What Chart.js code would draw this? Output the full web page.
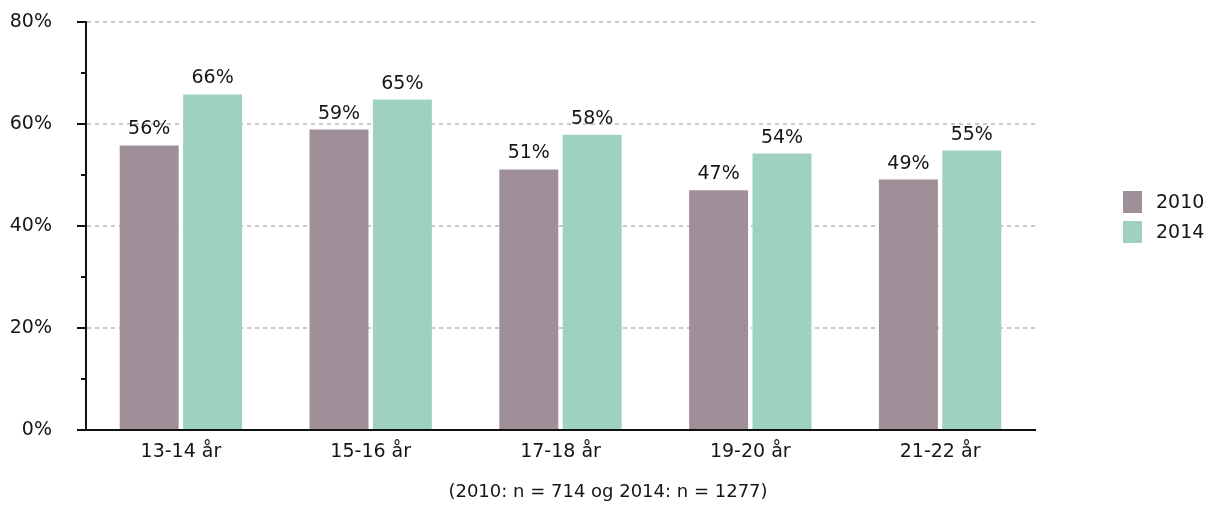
<!DOCTYPE html>
<html>
<head>
<meta charset="utf-8">
<script src="https://cdn.jsdelivr.net/npm/chart.js@4/dist/chart.umd.min.js"></script>
<style>
  html, body { margin: 0; padding: 0; background: #fff; }
  #wrap { width: 1206px; height: 505px; position: relative; }
</style>
</head>
<body>
<div id="wrap"><canvas id="c"></canvas></div>
<script>
const categories = ['13-14 år', '15-16 år', '17-18 år', '19-20 år', '21-22 år'];
const seriesNames = ['2010', '2014'];
const values2010 = [55.8, 58.9, 51.1, 47.0, 49.1];
const values2014 = [65.8, 64.8, 57.9, 54.2, 54.8];
const yTicks = [0, 20, 40, 60, 80];
const footnote = '(2010: n = 714 og 2014: n = 1277)';

const FONT = 'DejaVu Sans';
const TEXT = '#161616';
const colors = ['#a08e98', '#9fd1c0'];

const extras = {
  id: 'extras',
  afterDraw(chart) {
    const ctx = chart.ctx;
    const y = chart.scales.y;
    const area = chart.chartArea;
    ctx.save();
    // axis tick marks (major every 20, minor every 10)
    ctx.strokeStyle = '#111';
    ctx.lineWidth = 2;
    for (let v = 0; v <= 80; v += 10) {
      const py = Math.round(y.getPixelForValue(v));
      const len = (v % 20 === 0) ? 9 : 5;
      ctx.beginPath();
      ctx.moveTo(area.left - len, py);
      ctx.lineTo(area.left, py);
      ctx.stroke();
    }
    // data labels
    ctx.fillStyle = TEXT;
    ctx.font = '19px "' + FONT + '"';
    ctx.textAlign = 'center';
    ctx.textBaseline = 'alphabetic';
    chart.data.datasets.forEach((ds, di) => {
      const meta = chart.getDatasetMeta(di);
      meta.data.forEach((bar, i) => {
        ctx.fillText(Math.round(ds.data[i]) + '%', bar.x, bar.y - 11);
      });
    });
    // legend
    const lx = area.right + 88;
    const midY = (area.top + area.bottom) / 2 - 9;
    chart.data.datasets.forEach((ds, di) => {
      const cy = midY + (di - 0.5) * 30;
      ctx.fillStyle = ds.backgroundColor;
      ctx.fillRect(lx, cy - 11, 19, 22);
      ctx.fillStyle = TEXT;
      ctx.textAlign = 'left';
      ctx.textBaseline = 'middle';
      ctx.fillText(ds.label, lx + 33, cy + 1);
    });
    // footnote, centred on the full canvas
    ctx.font = '18px "' + FONT + '"';
    ctx.textAlign = 'center';
    ctx.textBaseline = 'middle';
    ctx.fillText(footnote, chart.width / 2 + 5, 492);
    ctx.restore();
  }
};

new Chart(document.getElementById('c'), {
  type: 'bar',
  data: {
    labels: categories,
    datasets: [
      { label: seriesNames[0], data: values2010, backgroundColor: colors[0],
        categoryPercentage: 0.668, barPercentage: 0.93 },
      { label: seriesNames[1], data: values2014, backgroundColor: colors[1],
        categoryPercentage: 0.668, barPercentage: 0.93 }
    ]
  },
  options: {
    responsive: true,
    maintainAspectRatio: false,
    animation: false,
    layout: { padding: { left: 0, right: 171, top: 22, bottom: 25 } },
    plugins: {
      legend: { display: false },
      tooltip: { enabled: false },
      title: { display: false }
    },
    scales: {
      x: {
        grid: { display: false, drawTicks: false },
        border: { display: true, color: '#111', width: 2 },
        ticks: { color: TEXT, font: { family: FONT, size: 19 }, padding: 11 },
        afterFit(scale) { scale.height = 50; scale.paddingLeft = 0; scale.paddingRight = 0; }
      },
      y: {
        min: 0,
        max: 80,
        afterBuildTicks(scale) { scale.ticks = yTicks.map(v => ({ value: v })); },
        grid: {
          drawTicks: false,
          color: (c) => (c.tick && c.tick.value === 0) ? 'rgba(0,0,0,0)' : '#c9c9c9',
          lineWidth: 2
        },
        border: { display: true, color: '#111', width: 2, dash: [4, 4] },
        ticks: {
          color: TEXT,
          font: { family: FONT, size: 19 },
          padding: 34,
          callback: (v) => v + '%'
        },
        afterFit(scale) { scale.width = 86; scale.paddingTop = 0; scale.paddingBottom = 0; }
      }
    }
  },
  plugins: [extras]
});
</script>
</body>
</html>
